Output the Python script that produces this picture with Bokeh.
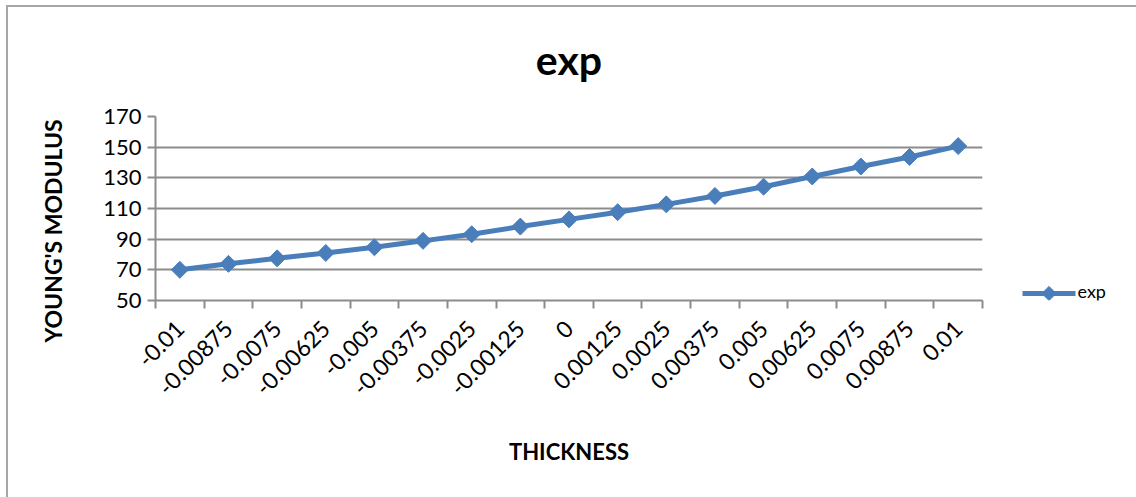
import numpy as np
from bokeh.plotting import figure
from bokeh.layouts import row
from bokeh.models import FixedTicker, ColumnDataSource
from bokeh.core.properties import value
from bokeh.embed import file_html
from bokeh.resources import INLINE

# Thickness positions (category labels) and measured Young's modulus
thickness_labels = ["-0.01", "-0.00875", "-0.0075", "-0.00625", "-0.005", "-0.00375",
                    "-0.0025", "-0.00125", "0", "0.00125", "0.0025", "0.00375",
                    "0.005", "0.00625", "0.0075", "0.00875", "0.01"]
youngs_modulus = [70.0, 73.9, 77.5, 81.0, 84.7, 88.9, 93.2, 98.2, 102.9, 107.6,
                  112.7, 118.2, 124.2, 130.9, 137.4, 143.6, 150.7]
y_ticks = [50, 70, 90, 110, 130, 150, 170]
series_name = "exp"

BLUE = "#4A7EBB"
GRID = "#8C8C8C"
FONT = "Lato"

# the figures start a little above the chart border so the title band has room
LIFT = 12
H = 490 + LIFT

idx = list(range(len(thickness_labels)))
src = ColumnDataSource(dict(x=idx, y=youngs_modulus))

# main chart area
p = figure(width=1002, height=H, output_backend="svg", toolbar_location=None,
           x_range=(-0.5, len(idx) - 0.5), y_range=(y_ticks[0], y_ticks[-1]),
           min_border_left=147, min_border_right=28, min_border_top=109 + LIFT,
           min_border_bottom=197)
p.styles = {"margin-top": f"-{LIFT}px"}
p.outline_line_color = None
p.background_fill_color = "white"
p.border_fill_color = None

# title
p.title.text = series_name
p.title.align = "center"
p.title.text_font = FONT
p.title.text_font_size = "41px"
p.title.text_font_style = "bold"
p.title.text_color = "black"
p.title.standoff = 66
p.title.offset = 10

# x axis: labels at category centres, tick marks at category boundaries
xa = p.xaxis[0]
xa.ticker = FixedTicker(ticks=idx, minor_ticks=[i - 0.5 for i in range(len(idx) + 1)])
xa.major_label_overrides = {i: lab for i, lab in zip(idx, thickness_labels)}
xa.major_label_orientation = np.pi / 4
xa.major_tick_line_color = None
xa.major_tick_out = 0
xa.minor_tick_in = 0
xa.minor_tick_out = 8
xa.minor_tick_line_color = GRID
xa.minor_tick_line_width = 2
xa.axis_line_color = GRID
xa.axis_line_width = 2
xa.major_label_text_font = FONT
xa.major_label_text_font_size = "23px"
xa.major_label_text_color = "black"
xa.major_label_standoff = 16
xa.axis_label = "THICKNESS"
xa.axis_label_text_font = FONT
xa.axis_label_text_font_size = "22px"
xa.axis_label_text_font_style = "bold"
xa.axis_label_text_color = "black"
xa.axis_label_standoff = 32

# y axis
ya = p.yaxis[0]
ya.ticker = FixedTicker(ticks=y_ticks)
ya.major_tick_in = 0
ya.major_tick_out = 8
ya.major_tick_line_color = GRID
ya.major_tick_line_width = 2
ya.minor_tick_line_color = None
ya.axis_line_color = GRID
ya.axis_line_width = 2
ya.major_label_text_font = FONT
ya.major_label_text_font_size = "22px"
ya.major_label_text_color = "black"
ya.major_label_standoff = 6
# trailing no-break spaces push the vertical title slightly downward
ya.axis_label = "YOUNG'S MODULUS" + "\u00a0" * 8
ya.axis_label_text_font = FONT
ya.axis_label_text_font_size = "23px"
ya.axis_label_text_font_style = "bold"
ya.axis_label_text_color = "black"
ya.axis_label_standoff = 33

p.xgrid.grid_line_color = None
p.ygrid.ticker = FixedTicker(ticks=y_ticks)
p.ygrid.grid_line_color = GRID
p.ygrid.grid_line_width = 2

# data series
p.line("x", "y", source=src, line_color=BLUE, line_width=5)
p.scatter("x", "y", source=src, marker="square", angle=np.pi / 4, size=12,
          fill_color=BLUE, line_color=BLUE)

# key panel to the right of the plot area; shares the vertical scale
KW = 126
lg = figure(width=KW, height=H, output_backend="svg", toolbar_location=None,
            x_range=(0, KW), y_range=p.y_range, x_axis_type=None, y_axis_type=None,
            min_border_left=0, min_border_right=0, min_border_top=0,
            min_border_bottom=0)
lg.styles = {"margin-top": f"-{LIFT}px"}
lg.outline_line_color = None
lg.border_fill_color = None
lg.xgrid.grid_line_color = None
lg.ygrid.grid_line_color = None
key_y = 54.6
label_y = 56.5
lg.segment(x0=[12], y0=[key_y], x1=[65], y1=[key_y], line_color=BLUE, line_width=5)
lg.scatter(x=[38.5], y=[key_y], marker="square", angle=np.pi / 4, size=10,
           fill_color=BLUE, line_color=BLUE)
lg.text(x=[67], y=[label_y], text=[series_name], text_font=value(FONT),
        text_font_size="18px", text_baseline="middle", text_align="left",
        text_color="black")

chart = row(p, lg, spacing=0,
            styles={"border-top": "2px solid #A6A6A6", "border-left": "2px solid #A6A6A6",
                    "margin-left": "6px", "margin-top": "5px"})

open("out.html", "w").write(file_html(chart, INLINE))
